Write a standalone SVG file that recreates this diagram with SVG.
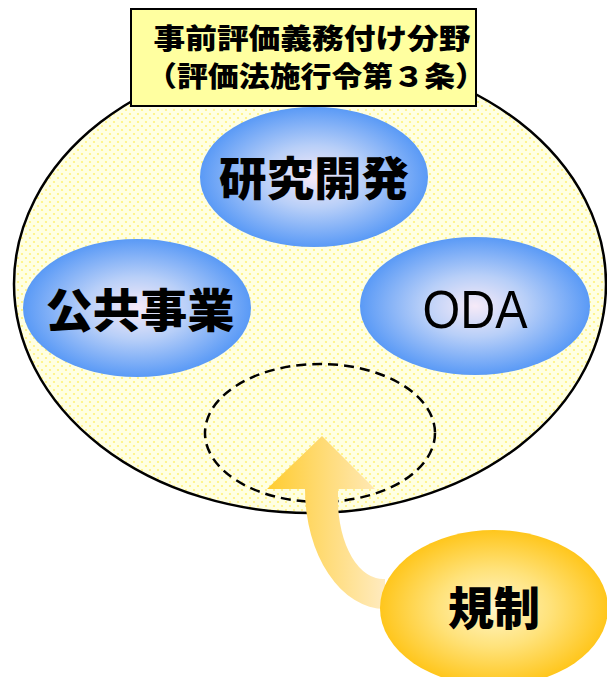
<svg xmlns="http://www.w3.org/2000/svg" width="607" height="677" viewBox="0 0 607 677">
<defs>
<pattern id="dots" width="8" height="8" patternUnits="userSpaceOnUse">
<rect width="8" height="8" fill="#FFFFE2"/>
<circle cx="2" cy="2" r="1.1" fill="#FFF27A"/>
<circle cx="6" cy="6" r="1.1" fill="#FFF27A"/>
</pattern>
<radialGradient id="blue" cx="50%" cy="50%" r="50%">
<stop offset="0" stop-color="#F6EAF8"/>
<stop offset="0.45" stop-color="#B8CFF8"/>
<stop offset="1" stop-color="#5A9AF6"/>
</radialGradient>
<radialGradient id="gold" cx="50%" cy="50%" r="50%">
<stop offset="0" stop-color="#FFF6C8"/>
<stop offset="0.5" stop-color="#FFE27A"/>
<stop offset="1" stop-color="#FFC61C"/>
</radialGradient>
<linearGradient id="arrowGrad" gradientUnits="userSpaceOnUse" x1="267" y1="0" x2="385" y2="0">
<stop offset="0" stop-color="#FFCC30"/>
<stop offset="1" stop-color="#FFEBC0"/>
</linearGradient>
</defs>
<style>
.jp{font-family:"Noto Sans CJK JP","Noto Sans CJK SC",sans-serif;font-weight:900;fill:#000;text-anchor:middle}
.big{font-size:46px}
.hdr{font-size:28px}
.node{fill:url(#blue)}
</style>
<g id="field">
<ellipse cx="310" cy="284" rx="296" ry="229" fill="url(#dots)" stroke="#000" stroke-width="2.5"/>
</g>
<g id="title">
<rect x="131" y="9" width="345" height="97" fill="#FFFFA0" stroke="#000" stroke-width="2"/>
<text class="jp hdr" x="312" y="49" textLength="317" lengthAdjust="spacingAndGlyphs">事前評価義務付け分野</text>
<text class="jp hdr" x="316" y="87" textLength="340" lengthAdjust="spacingAndGlyphs">（評価法施行令第３条）</text>
</g>
<g id="kenkyu">
<ellipse class="node" cx="314" cy="177" rx="114" ry="70"/>
<text class="jp big" x="314" y="195" textLength="190" lengthAdjust="spacingAndGlyphs">研究開発</text>
</g>
<g id="kokyo">
<ellipse class="node" cx="137" cy="308" rx="114" ry="69"/>
<text class="jp big" x="140" y="327" textLength="189" lengthAdjust="spacingAndGlyphs">公共事業</text>
</g>
<g id="oda">
<ellipse class="node" cx="475" cy="306" rx="115" ry="69"/>
<text x="475" y="328" font-family="Liberation Sans, Arial, sans-serif" font-size="54" text-anchor="middle" textLength="105" lengthAdjust="spacingAndGlyphs">ODA</text>
</g>
<g id="target">
<ellipse cx="320" cy="433" rx="115" ry="69" fill="none" stroke="#000" stroke-width="2.5" stroke-dasharray="10 6"/>
</g>
<g id="connectors">
<path d="M322,436 L375,489 L338,489 L338,500 A45,79 0 0 0 385,579 L385,609 A80,120 0 0 1 305,489 L267,489 Z" fill="url(#arrowGrad)"/>
</g>
<g id="kisei">
<ellipse cx="494" cy="608" rx="114" ry="78" fill="url(#gold)"/>
<text class="jp big" x="494" y="625" textLength="92" lengthAdjust="spacingAndGlyphs">規制</text>
</g>
</svg>
